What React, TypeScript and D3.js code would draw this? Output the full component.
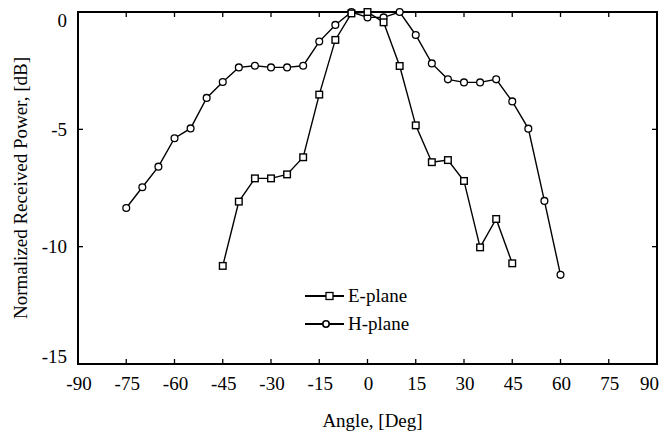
import React from "react";
import * as d3 from "d3";

const angles = [-75, -70, -65, -60, -55, -50, -45, -40, -35, -30, -25, -20, -15, -10, -5, 0, 5, 10, 15, 20, 25, 30, 35, 40, 45, 50, 55, 60];
const hPlane = [-8.35, -7.47, -6.59, -5.38, -4.96, -3.66, -2.98, -2.36, -2.29, -2.36, -2.36, -2.29, -1.26, -0.55, 0, -0.23, -0.23, 0, -0.98, -2.19, -2.87, -3.0, -3.0, -2.87, -3.81, -4.97, -8.05, -11.2];
const eAngles = [-45, -40, -35, -30, -25, -20, -15, -10, -5, 0, 5, 10, 15, 20, 25, 30, 35, 40, 45];
const ePlane = [-10.82, -8.08, -7.09, -7.09, -6.92, -6.19, -3.52, -1.19, -0.06, 0, -0.44, -2.3, -4.83, -6.4, -6.31, -7.2, -10.03, -8.82, -10.71];
const xTicks = [-90, -75, -60, -45, -30, -15, 0, 15, 30, 45, 60, 75, 90];
const yTicks = [0, -5, -10, -15];

const W = 660, H = 435;
const m = { l: 78, r: 3, t: 12, b: 71 };
const font = "Liberation Serif";
const ts: React.CSSProperties = { fontFamily: font, fontSize: 19 };

export default function App() {
  const x = d3.scaleLinear().domain([-90, 90]).range([m.l, W - m.r]);
  const y = d3.scaleLinear().domain([-15, 0]).range([H - m.b, m.t]);
  const line = d3.line<[number, number]>().x(d => x(d[0])).y(d => y(d[1]));
  const hPts: [number, number][] = angles.map((a, i) => [a, hPlane[i]]);
  const ePts: [number, number][] = eAngles.map((a, i) => [a, ePlane[i]]);
  const x0 = m.l, x1 = W - m.r, y0 = m.t, y1 = H - m.b;
  const tl = 5;
  return (
    <svg width={W} height={H} style={{ position: "absolute", left: 0, top: 0, background: "#fff" }}>
      {xTicks.map(t => {
        const last = t === 90;
        return (
          <g key={"x" + t}>
            <line x1={x(t)} x2={x(t)} y1={y1} y2={y1 - tl} stroke="#000" strokeWidth={1.3} />
            <line x1={x(t)} x2={x(t)} y1={y0} y2={y0 + tl} stroke="#000" strokeWidth={1.3} />
            <text x={last ? 659 : x(t) + 1} y={390} textAnchor={last ? "end" : "middle"} style={ts}>{t}</text>
          </g>
        );
      })}
      {yTicks.map(t => {
        const yy = y(t);
        const ly = t === 0 ? yy + 15 : t === -15 ? yy - 1 : yy + 6.5;
        return (
          <g key={"y" + t}>
            <line x1={x0} x2={x0 + tl} y1={yy} y2={yy} stroke="#000" strokeWidth={1.3} />
            <line x1={x1} x2={x1 - tl} y1={yy} y2={yy} stroke="#000" strokeWidth={1.3} />
            <text x={67} y={ly} textAnchor="end" style={ts}>{t}</text>
          </g>
        );
      })}
      <rect x={x0} y={y0} width={x1 - x0} height={y1 - y0} fill="none" stroke="#000" strokeWidth={2} />
      <path d={line(hPts) || ""} fill="none" stroke="#000" strokeWidth={1.4} />
      <path d={line(ePts) || ""} fill="none" stroke="#000" strokeWidth={1.4} />
      {hPts.map((p, i) => (
        <circle key={"h" + i} cx={x(p[0])} cy={y(p[1])} r={3.4} fill="#fff" stroke="#000" strokeWidth={1.3} />
      ))}
      {ePts.map((p, i) => (
        <rect key={"e" + i} x={x(p[0]) - 3.3} y={y(p[1]) - 3.3} width={6.6} height={6.6} fill="#fff" stroke="#000" strokeWidth={1.4} />
      ))}
      <g>
        <line x1={305} x2={344} y1={296} y2={296} stroke="#000" strokeWidth={2} />
        <rect x={326} y={292.5} width={7} height={7} fill="#fff" stroke="#000" strokeWidth={1.3} />
        <text x={348} y={302} style={ts}>E-plane</text>
        <line x1={305} x2={344} y1={324} y2={324} stroke="#000" strokeWidth={2} />
        <circle cx={326} cy={324} r={3.2} fill="#fff" stroke="#000" strokeWidth={1.6} />
        <text x={348} y={330} style={ts}>H-plane</text>
      </g>
      <text x={(x0 + x1) / 2 + 5} y={427} textAnchor="middle" style={ts}>Angle, [Deg]</text>
      <text transform={`translate(27,${(y0 + y1) / 2}) rotate(-90)`} textAnchor="middle" style={ts}>Normalized Received Power, [dB]</text>
    </svg>
  );
}
